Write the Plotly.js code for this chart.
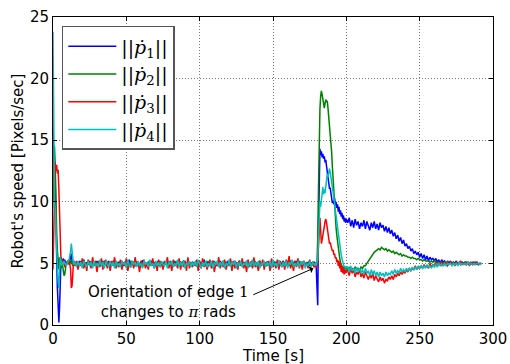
<!DOCTYPE html>
<html>
<head>
<meta charset="utf-8">
<script src="https://cdn.plot.ly/plotly-3.0.1.min.js"></script>
<style>html,body{margin:0;padding:0;background:#fff;}#chart{width:510px;height:364px;}</style>
</head>
<body>
<div id="chart"></div>
<script>
// Time samples [s]
const time = [
  // start transient
  0,0.5,1,1.5,2,2.5,3,3.5,4,4.5,
  5,5.5,6,6.5,7,7.5,8,9,10,11,
  12,12.5,13,13.5,14,15,
  // steady motion
  16,17,18,19,20,21,22,23,24,25,
  26,27,28,29,30,31,32,33,34,35,
  36,37,38,39,40,41,42,43,44,45,
  46,47,48,49,50,51,52,53,54,55,
  56,57,58,59,60,61,62,63,64,65,
  66,67,68,69,70,71,72,73,74,75,
  76,77,78,79,80,81,82,83,84,85,
  86,87,88,89,90,91,92,93,94,95,
  96,97,98,99,100,101,102,103,104,105,
  106,107,108,109,110,111,112,113,114,115,
  116,117,118,119,120,121,122,123,124,125,
  126,127,128,129,130,131,132,133,134,135,
  136,137,138,139,140,141,142,143,144,145,
  146,147,148,149,150,151,152,153,154,155,
  156,157,158,159,160,161,162,163,164,165,
  166,167,168,169,170,171,172,173,174,175,
  176,177,178,
  // orientation change
  179,179.5,180,180.5,181,181.5,182,182.5,183,183.5,
  184,184.5,185,185.5,186,186.5,187,187.5,188,188.5,
  189,189.5,190,190.5,191,191.5,192,192.5,193,193.5,
  194,194.5,195,195.5,196,196.5,197,197.5,198,198.5,
  199,199.5,200,
  // settling
  201,202,203,204,205,206,207,208,209,210,
  211,212,213,214,215,216,217,218,219,220,
  221,222,223,224,225,226,227,228,229,230,
  231,232,233,234,235,236,237,238,239,240,
  241,242,243,244,245,246,247,248,249,250,
  251,252,253,254,255,256,257,258,259,260,
  261,262,263,264,265,266,267,268,269,270,
  271,272,273,274,275,276,277,278,279,280,
  281,282,283,284,285,286,287,288,289,290,
  291,292
];

const p1 = [
  16.8,12.0,9.5,11.8,7.0,5.5,3.0,2.0,0.2,1.5,
  3.8,5.5,5.2,4.9,5.4,5.0,5.3,4.8,5.2,5.0,
  5.5,5.8,5.1,4.8,5.2,5.0,
  5.1,4.8,5.2,4.9,5.0,5.3,4.8,5.1,4.9,5.2,
  4.8,5.1,5.0,4.9,5.2,4.8,5.1,5.0,4.9,5.2,
  5.0,4.8,5.2,4.9,5.1,5.0,4.8,5.2,4.9,5.1,
  4.9,5.2,4.8,5.0,5.1,4.9,5.3,4.8,5.0,5.1,
  5.2,4.9,5.0,4.8,5.1,5.2,4.9,5.0,4.8,5.1,
  5.0,5.2,4.8,5.1,4.9,5.0,5.2,4.8,5.1,4.9,
  5.1,4.9,5.2,4.8,5.0,5.1,4.9,5.2,4.8,5.0,
  4.9,5.1,5.0,4.8,5.2,4.9,5.1,5.0,4.8,5.1,
  5.0,4.9,5.2,4.8,5.1,5.0,4.9,5.3,4.8,5.0,
  5.1,4.8,5.0,5.2,4.9,5.1,4.8,5.0,5.2,4.9,
  5.0,5.1,4.8,5.2,4.9,5.0,5.1,4.8,5.2,5.0,
  4.9,5.2,5.0,4.8,5.1,4.9,5.2,5.0,4.8,5.1,
  5.2,4.8,5.1,4.9,5.0,5.2,4.8,5.1,5.0,4.9,
  5.1,5.0,4.8,5.2,4.9,5.1,5.0,4.8,5.2,4.9,
  5.0,5.2,4.9,5.1,4.8,5.0,5.2,4.9,5.1,4.8,
  5.2,4.9,5.0,5.1,4.8,5.2,4.9,5.0,5.1,4.8,
  5.0,4.9,5.1,
  5.0,4.6,3.0,1.6,8.0,12.5,14.3,13.8,14.1,13.6,
  13.9,13.5,13.7,13.2,13.4,12.9,12.4,12.0,11.6,11.1,
  11.1,10.6,10.2,9.9,10.1,9.8,10.3,9.7,10.0,9.5,
  9.8,9.2,9.6,9.0,9.3,8.8,9.1,8.6,8.9,8.4,
  8.7,8.3,8.6,
  8.3,8.7,8.0,8.5,7.9,8.6,8.1,8.4,7.8,8.3,
  8.0,8.5,7.8,8.4,8.1,7.7,8.3,7.9,8.4,7.8,
  8.2,7.7,8.3,7.9,8.1,7.6,8.0,7.5,7.9,7.4,
  7.7,7.2,7.5,7.0,7.3,6.8,7.1,6.6,6.9,6.4,
  6.6,6.2,6.4,6.0,6.2,5.8,6.0,5.7,5.9,5.5,
  5.8,5.4,5.7,5.3,5.6,5.2,5.5,5.3,5.4,5.2,
  5.4,5.1,5.3,5.0,5.3,5.1,5.2,4.9,5.2,5.0,
  5.2,4.9,5.1,5.0,5.2,4.9,5.1,4.9,5.1,5.0,
  5.1,4.9,5.1,5.0,5.0,4.9,5.1,5.0,5.1,4.9,
  5.0,5.0
];

const p2 = [
  10.0,12.5,14.5,13.0,9.0,7.5,6.0,5.0,4.5,5.5,
  5.0,4.6,5.3,4.8,4.5,4.0,4.1,5.0,5.2,4.9,
  5.1,5.3,5.0,4.8,5.1,5.0,
  4.9,5.1,4.8,5.2,5.0,4.9,5.1,4.8,5.2,5.0,
  5.1,4.9,5.0,5.2,4.8,5.1,4.9,5.0,5.2,4.8,
  5.0,5.1,4.9,5.0,4.8,5.2,5.0,4.9,5.1,4.8,
  5.2,4.9,5.0,5.1,4.8,5.0,4.9,5.2,5.0,4.9,
  4.8,5.1,5.0,4.9,5.2,4.8,5.1,5.0,4.9,5.1,
  5.0,4.8,5.2,4.9,5.0,5.1,4.8,5.2,4.9,5.0,
  4.9,5.1,4.8,5.0,5.2,4.9,5.0,4.8,5.1,5.2,
  5.0,4.9,5.1,5.2,4.8,5.0,4.9,5.1,5.0,4.9,
  5.1,4.8,5.0,5.2,4.9,5.1,4.8,5.0,4.9,5.2,
  4.8,5.0,5.1,4.9,5.2,4.8,5.0,5.1,4.9,5.0,
  5.2,4.9,5.1,4.8,5.0,5.2,4.9,5.0,5.1,4.8,
  4.9,5.2,5.0,4.8,5.1,4.9,5.0,5.2,4.8,5.1,
  5.0,4.9,5.1,5.0,4.8,5.2,4.9,5.1,5.0,4.8,
  5.1,5.0,4.9,5.2,4.8,5.0,5.1,4.9,5.2,5.0,
  4.8,5.1,5.0,4.9,5.2,4.8,5.1,4.9,5.0,5.2,
  4.9,5.0,5.2,4.8,5.1,5.0,4.9,5.1,4.8,5.0,
  5.0,5.1,4.9,
  5.0,4.9,5.1,7.0,11.0,15.0,17.5,18.6,19.0,18.7,
  18.2,17.8,17.6,18.0,18.3,18.1,18.2,17.6,17.0,16.2,
  15.5,14.8,14.0,12.8,11.6,10.4,9.4,8.6,7.9,7.3,
  6.7,6.2,5.8,5.4,5.1,4.9,4.7,4.8,4.6,4.7,
  4.5,4.7,4.6,
  4.5,4.7,4.4,4.6,4.5,4.7,4.5,4.6,4.4,4.7,
  4.6,4.8,4.8,5.0,5.2,5.4,5.6,5.7,5.9,6.0,
  6.1,6.2,6.1,6.3,6.2,6.1,6.2,6.0,6.1,6.0,
  5.9,6.0,5.8,5.9,5.8,5.7,5.8,5.6,5.7,5.6,
  5.6,5.5,5.5,5.4,5.5,5.4,5.4,5.3,5.4,5.3,
  5.3,5.2,5.3,5.2,5.2,5.2,5.1,5.2,5.1,5.2,
  5.1,5.1,5.0,5.1,5.1,5.0,5.1,5.0,5.1,5.0,
  5.0,5.1,5.0,5.0,5.1,5.0,5.0,5.1,5.0,5.0,
  5.1,5.0,5.0,4.9,5.0,5.1,5.0,5.0,4.9,5.0,
  5.0,5.0
];

const p3 = [
  4.5,8.0,10.5,13.2,12.5,13.0,12.3,12.6,11.0,8.0,
  6.0,5.0,4.8,5.3,4.9,5.2,4.7,5.0,5.1,5.3,
  4.5,3.0,3.2,4.6,5.1,4.8,
  5.2,4.5,5.0,4.8,5.4,4.6,5.1,4.4,5.3,4.9,
  4.6,5.5,4.8,5.1,4.3,5.2,4.7,5.4,4.5,5.0,
  5.3,4.6,5.1,4.4,5.2,4.8,5.5,4.6,5.0,4.7,
  5.3,4.5,5.1,4.8,5.4,4.4,5.0,4.7,5.2,4.6,
  5.5,4.8,5.1,4.3,5.2,4.7,5.3,4.6,5.0,4.5,
  5.2,4.8,5.4,4.6,5.1,4.4,5.3,4.7,5.0,4.5,
  5.2,4.9,5.5,4.6,5.1,4.4,5.3,4.8,5.0,4.6,
  5.4,4.5,5.1,4.7,5.2,4.4,5.5,4.6,5.1,4.7,
  5.0,4.8,5.3,4.4,5.2,4.6,5.4,4.7,5.1,4.5,
  4.9,5.3,4.6,5.2,4.3,5.0,4.8,5.5,4.6,5.1,
  4.7,5.3,4.5,5.0,4.8,5.4,4.4,5.2,4.6,5.1,
  4.5,5.2,4.8,5.4,4.6,5.0,4.3,5.3,4.7,5.1,
  4.6,5.5,4.7,5.0,4.4,5.2,4.8,5.3,4.5,5.1,
  4.8,5.2,4.4,5.4,4.7,5.0,4.6,5.3,4.5,5.2,
  4.7,5.1,4.5,5.3,4.8,5.6,4.6,5.0,4.4,5.2,
  4.7,5.4,4.6,5.1,4.5,5.2,4.8,5.0,4.6,5.3,
  4.8,5.0,4.7,
  4.8,5.0,4.7,5.2,6.0,7.5,8.7,7.0,6.6,6.9,
  7.2,7.6,8.0,8.4,8.6,8.3,7.8,7.2,6.9,6.6,
  6.7,6.3,6.2,6.0,6.1,5.7,5.8,5.4,5.5,5.1,
  5.3,4.8,5.2,4.6,5.0,4.3,4.8,4.2,4.6,4.1,
  4.5,4.2,4.4,
  4.4,4.0,4.6,4.2,4.5,3.9,4.3,4.1,4.5,3.9,
  4.2,3.8,4.3,4.0,3.7,4.1,3.8,4.2,3.6,4.0,
  3.7,3.5,3.9,3.6,3.8,3.4,3.7,3.6,3.9,3.7,
  4.0,3.7,4.1,3.9,4.2,4.0,4.3,4.1,4.4,4.2,
  4.5,4.3,4.6,4.4,4.6,4.5,4.8,4.5,4.7,4.6,
  4.8,4.6,4.9,4.7,4.8,4.6,5.0,4.7,4.9,4.8,
  5.0,4.8,4.9,5.1,4.8,5.0,4.9,5.1,4.8,5.0,
  5.1,4.9,5.0,4.8,5.1,4.9,5.0,5.2,4.9,5.0,
  4.9,5.1,5.0,4.8,5.1,5.0,4.9,5.1,5.0,4.9,
  5.0,5.0
];

const p4 = [
  23.8,13.0,10.0,9.5,7.0,6.0,4.5,3.5,3.0,4.5,
  5.5,5.2,4.8,5.1,4.9,5.2,5.0,4.8,5.1,5.3,
  6.0,6.6,6.0,5.2,4.9,5.1,
  4.7,5.2,4.8,5.1,4.6,5.2,4.9,4.7,5.2,4.8,
  5.1,4.6,5.2,4.8,5.0,4.7,5.3,4.8,5.1,4.6,
  5.2,4.9,4.7,5.2,4.8,5.1,4.6,5.2,4.8,5.0,
  4.7,5.2,4.9,5.1,4.6,5.3,4.8,4.7,5.2,4.9,
  5.1,4.7,5.2,4.8,5.0,4.6,5.2,4.9,5.1,4.7,
  5.3,4.8,5.0,4.6,5.2,4.8,5.1,4.7,5.2,4.9,
  4.8,5.2,4.6,5.1,4.9,5.2,4.7,5.0,4.8,5.3,
  4.7,5.1,4.8,5.2,4.6,5.0,4.9,5.2,4.7,5.1,
  4.8,5.2,4.7,5.3,4.9,4.6,5.1,4.8,5.2,4.7,
  5.0,4.8,5.2,4.6,5.1,4.9,5.2,4.7,5.1,4.8,
  5.2,4.6,5.0,4.8,5.3,4.7,5.1,4.9,5.2,4.6,
  5.1,4.8,5.2,4.7,5.0,4.9,5.2,4.6,5.1,4.8,
  5.3,4.7,5.1,4.8,5.2,4.6,5.0,4.9,5.2,4.7,
  5.1,4.8,5.2,4.6,5.3,4.8,5.0,4.7,5.2,4.9,
  4.7,5.1,4.8,5.2,4.6,5.1,4.9,5.3,4.7,5.0,
  4.8,5.2,4.7,5.1,4.9,5.2,4.6,5.0,4.8,5.2,
  4.7,5.1,4.9,
  5.0,4.8,5.1,5.3,7.0,9.0,10.0,9.6,10.3,10.8,
  11.2,10.6,11.0,10.7,11.4,11.9,12.3,12.0,12.5,12.7,
  12.4,12.0,11.6,11.2,11.0,10.4,9.9,9.3,8.8,8.3,
  7.8,7.2,6.8,6.4,6.0,5.7,5.4,5.1,4.9,4.7,
  4.8,4.6,4.7,
  4.7,4.3,4.8,4.4,4.6,4.2,4.7,4.3,4.6,4.2,
  4.5,4.1,4.6,4.2,4.4,4.0,4.5,4.1,4.4,4.0,
  4.3,3.9,4.3,4.0,4.2,3.9,4.3,4.0,4.2,4.1,
  4.4,4.1,4.5,4.2,4.4,4.2,4.6,4.3,4.5,4.3,
  4.6,4.4,4.6,4.4,4.7,4.5,4.7,4.5,4.8,4.6,
  4.8,4.6,4.8,4.6,4.9,4.7,4.8,4.6,4.9,4.7,
  4.9,4.7,5.0,4.8,4.9,4.8,5.0,4.8,5.0,4.9,
  5.0,4.8,5.0,4.9,5.0,4.8,5.1,4.9,5.0,4.9,
  5.0,4.9,5.1,4.9,5.0,4.9,5.0,4.9,5.0,5.0,
  4.9,5.0
];

const seriesNames = [
  '||<i>ṗ</i><sub>1</sub>||',
  '||<i>ṗ</i><sub>2</sub>||',
  '||<i>ṗ</i><sub>3</sub>||',
  '||<i>ṗ</i><sub>4</sub>||'
];
const seriesColors = ['#0000ff', '#008000', '#ff0000', '#00bfbf'];
const seriesValues = [p1, p2, p3, p4];

const xTicks = [0, 50, 100, 150, 200, 250, 300];
const yTicks = [0, 5, 10, 15, 20, 25];
const xTitle = 'Time [s]';
const yTitle = "Robot's speed [Pixels/sec]";

const annText = 'Orientation of edge <span style="font-family:\'DejaVu Serif\'">1</span><br>changes to <span style="font-family:\'DejaVu Serif\'"><i>π</i></span> rads';

const traces = seriesValues.map((v, i) => ({
  x: time, y: v, type: 'scatter', mode: 'lines',
  name: seriesNames[i],
  line: {color: seriesColors[i], width: 1.5}
}));

const axisCommon = {
  showline: true, mirror: 'ticks', linecolor: '#000', linewidth: 1,
  ticks: 'inside', ticklen: 4, tickcolor: '#000',
  showgrid: true, gridcolor: '#777', griddash: '1px,2px', gridwidth: 1,
  zeroline: false,
  tickfont: {family: 'DejaVu Sans', size: 15, color: '#000'}
};

const layout = {
  width: 510, height: 364,
  margin: {l: 53, r: 17, t: 17, b: 39},
  paper_bgcolor: '#fff', plot_bgcolor: '#fff',
  showlegend: true,
  legend: {
    x: 0.02, y: 0.971, xanchor: 'left', yanchor: 'top',
    bgcolor: '#fff', bordercolor: '#555', borderwidth: 1.5,
    font: {family: 'DejaVu Serif', size: 19, color: '#000'},
    itemwidth: 48
  },
  xaxis: Object.assign({}, axisCommon, {
    range: [0, 300], tickvals: xTicks, ticktext: xTicks.map(String)
  }),
  yaxis: Object.assign({}, axisCommon, {
    range: [0, 25], tickvals: yTicks, ticktext: yTicks.map(String),
    title: {text: yTitle, font: {family: 'DejaVu Sans', size: 15, color: '#000'}, standoff: 2}
  }),
  annotations: [
    {
      x: 0.5, y: -0.1, xref: 'paper', yref: 'paper',
      xanchor: 'center', yanchor: 'middle',
      text: xTitle, showarrow: false,
      font: {family: 'DejaVu Sans', size: 15, color: '#000'}
    },
    {
      x: 177.5, y: 4.6, xref: 'x', yref: 'y',
      ax: 135.5, ay: 2.4, axref: 'x', ayref: 'y',
      text: '', showarrow: true, arrowhead: 1, arrowsize: 1.2, arrowwidth: 1, arrowcolor: '#000'
    },
    {
      x: 78.5, y: 1.85, xref: 'x', yref: 'y',
      text: annText, showarrow: false, align: 'center',
      font: {family: 'DejaVu Sans', size: 15, color: '#000'}
    }
  ]
};

Plotly.newPlot('chart', traces, layout, {displayModeBar: false, staticPlot: true});
</script>
</body>
</html>
